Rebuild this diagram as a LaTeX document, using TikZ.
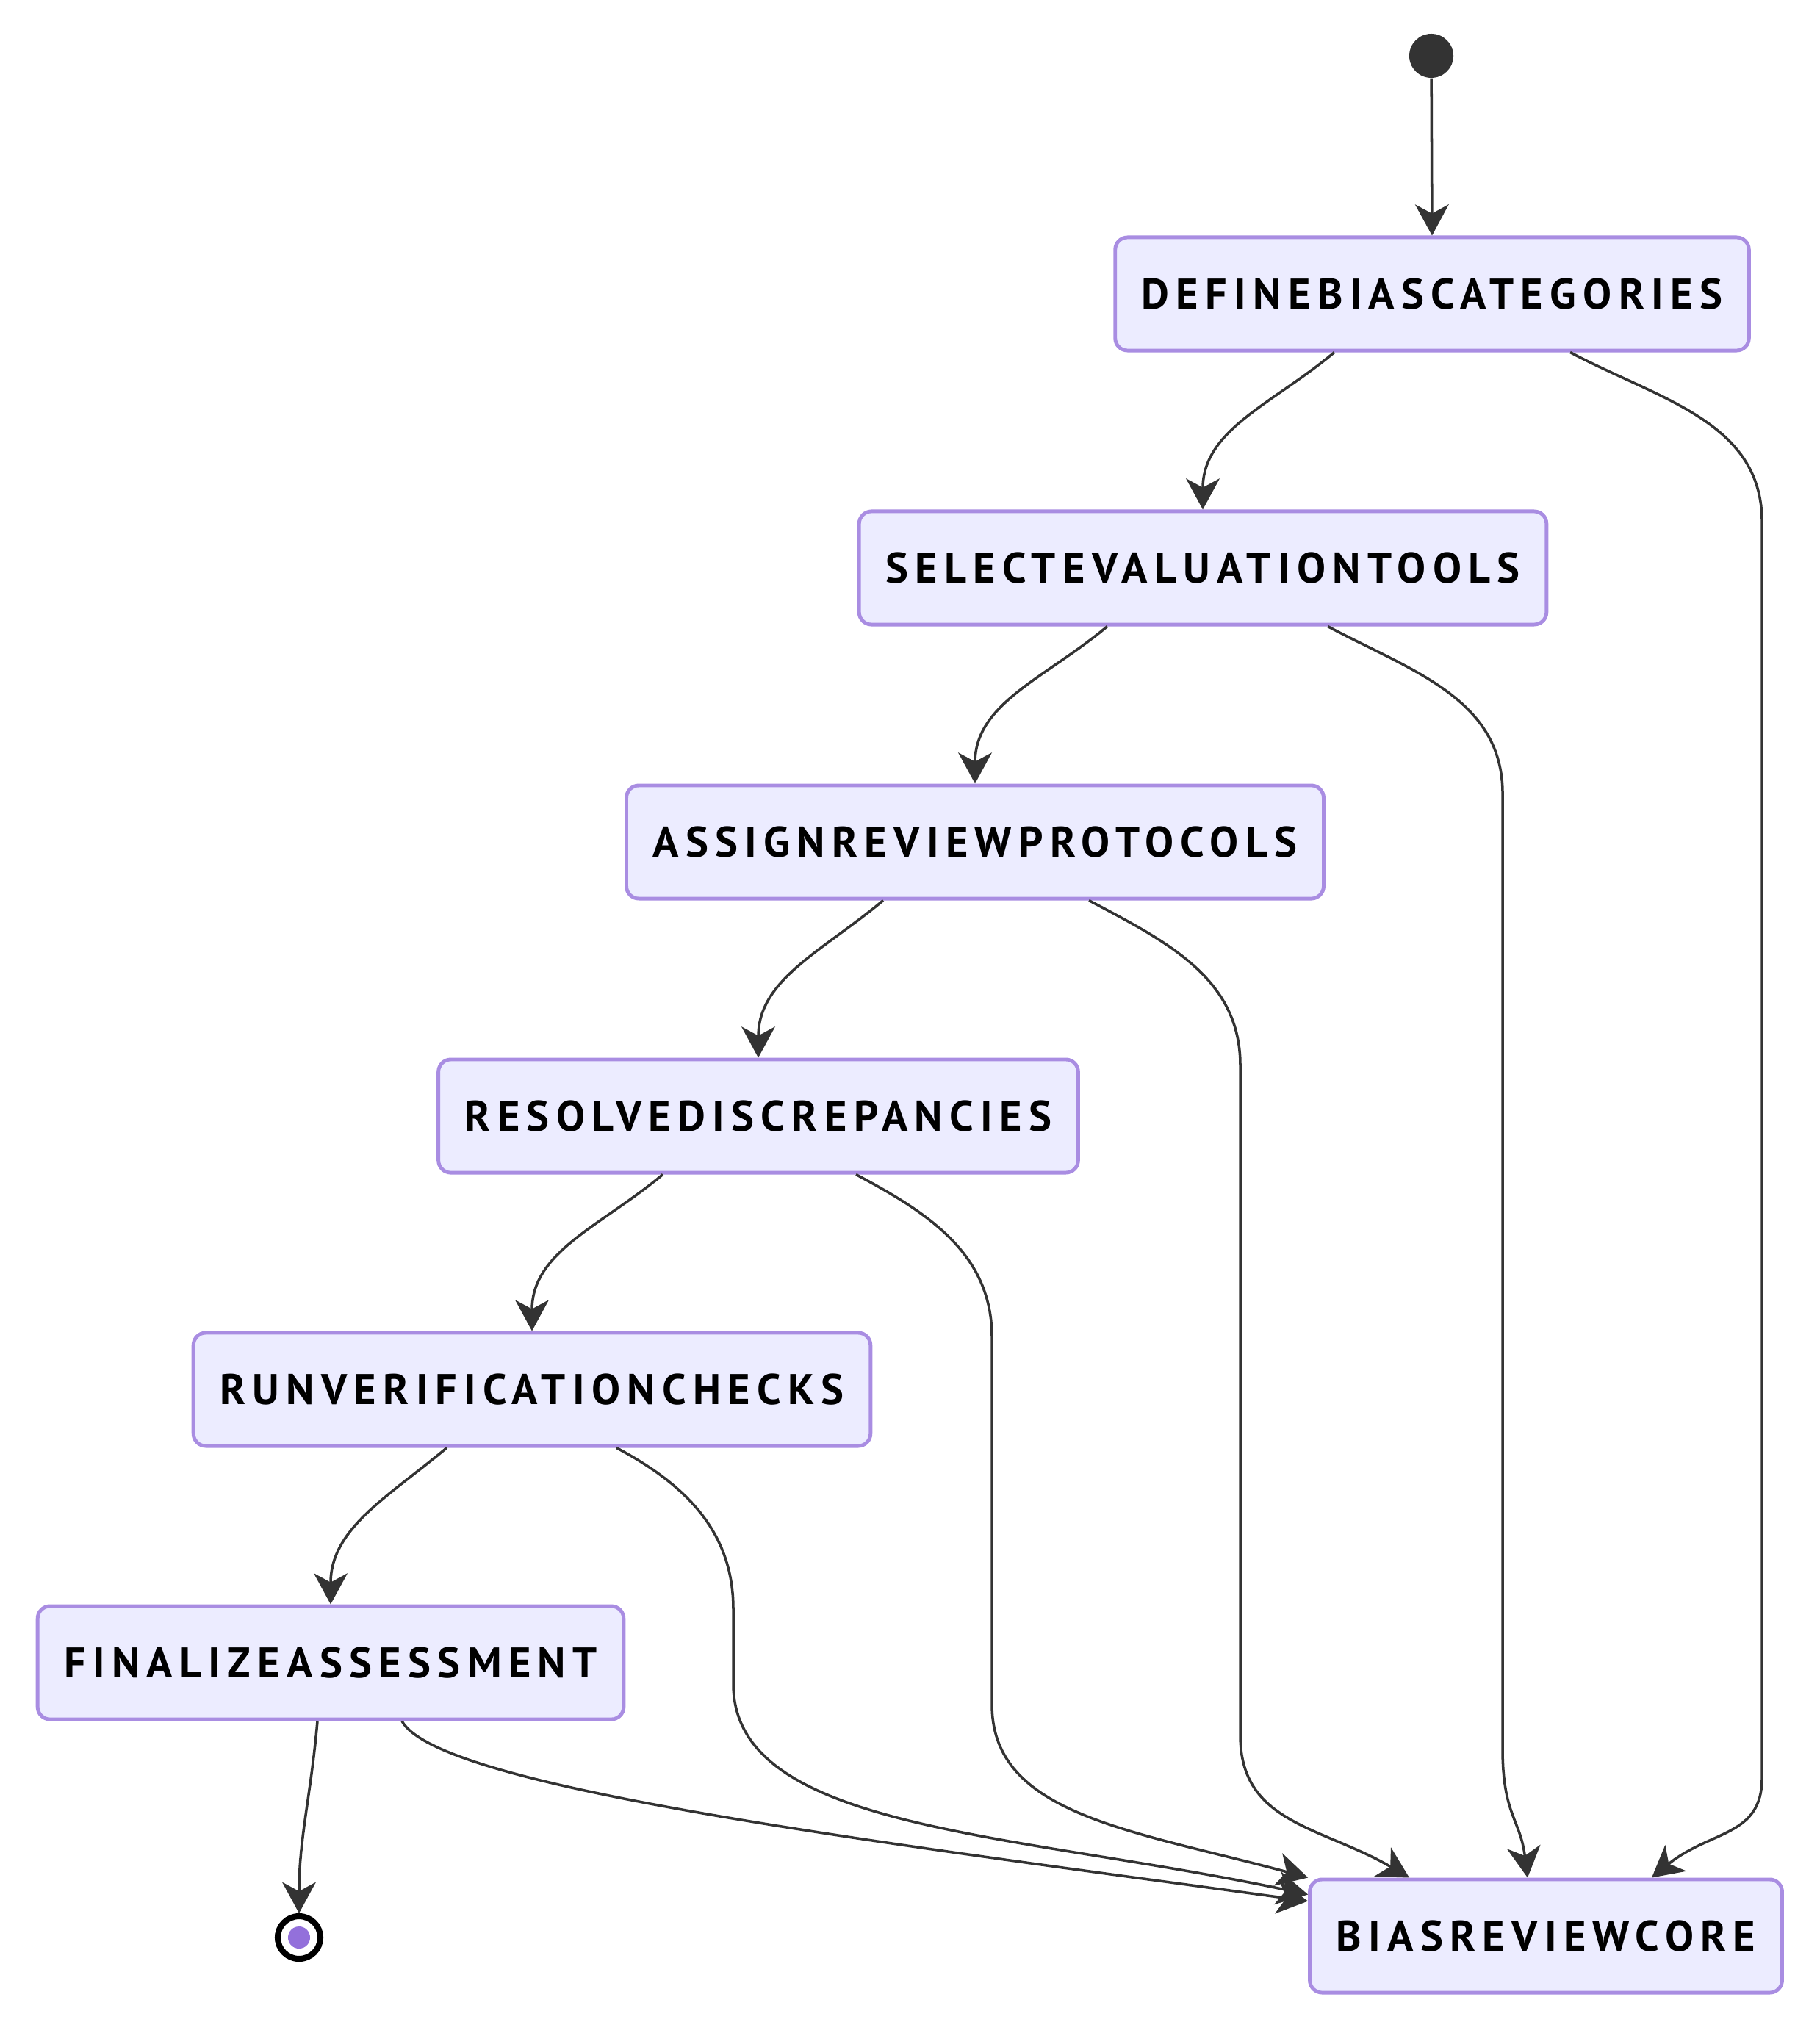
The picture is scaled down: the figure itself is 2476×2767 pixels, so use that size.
\documentclass[tikz,border=0pt]{standalone}
\usepackage{fontspec}
\setmainfont{PT Sans}
\usetikzlibrary{arrows.meta}

\definecolor{boxfill}{HTML}{ECECFF}
\definecolor{boxline}{HTML}{9370DB}
\definecolor{edgeline}{HTML}{333333}

\begin{document}
\begin{tikzpicture}[x=0.01cm, y=0.01cm,
  statebox/.style={rectangle, rounded corners=4.8pt, draw=boxline!80!white, line width=1.4pt, fill=boxfill,
    minimum height=1.54cm, inner xsep=0.36cm,
    font=\fontsize{16.6}{18}\selectfont\bfseries\addfontfeature{LetterSpace=16}},
  edge/.style={draw=edgeline, line width=1pt, -{Stealth[length=12pt,width=13pt,inset=3.5pt]}}]
\useasboundingbox (0,0) rectangle (2476,-2767);

\node[circle, fill=edgeline, minimum size=0.6cm, inner sep=0pt] (start) at (1948,-76) {};
\node[statebox] (define) at (1949,-400) {DEFINEBIASCATEGORIES};
\node[statebox] (select) at (1637,-773) {SELECTEVALUATIONTOOLS};
\node[statebox] (assign) at (1327,-1146) {ASSIGNREVIEWPROTOCOLS};
\node[statebox] (resolve) at (1032,-1519) {RESOLVEDISCREPANCIES};
\node[statebox] (run) at (724,-1891) {RUNVERIFICATIONCHECKS};
\node[statebox] (final) at (450,-2263) {FINALIZEASSESSMENT};
\node[statebox] (core) at (2104,-2635) {BIASREVIEWCORE};
\node[circle, draw=black, line width=2.3pt, fill=white, minimum size=0.58cm, inner sep=0pt] (end) at (407,-2637) {};
\fill[boxline] (end.center) circle (0.15cm);

\draw[edge] (start) -- (define.north);

\draw[edge] (define.south) ++(-133,0) to[out=-140, in=90] (select.north);
\draw[edge] (select.south) ++(-130,0) to[out=-140, in=90] (assign.north);
\draw[edge] (assign.south) ++(-125,0) to[out=-140, in=90] (resolve.north);
\draw[edge] (resolve.south) ++(-130,0) to[out=-140, in=90] (run.north);
\draw[edge] (run.south) ++(-116,0) to[out=-140, in=90] (final.north);
\draw[edge] (final.south) ++(-18,0) to[out=-95, in=90] (end.north);

\draw[edge] (define.south) ++(188,0) to[out=-28, in=90] (2398,-710) -- (2398,-2420)
  .. controls +(0,-80) and +(80,65) .. ([xshift=144*0.01cm]core.north);
\draw[edge] (select.south) ++(170,0) to[out=-28, in=90] (2045,-1080) -- (2045,-2380)
  .. controls +(0,-90) and +(-10,80) .. ([xshift=-25*0.01cm]core.north);
\draw[edge] (assign.south) ++(155,0) to[out=-28, in=90] (1688,-1450) -- (1688,-2362)
  .. controls +(0,-120) and +(-120,70) .. ([xshift=-186*0.01cm]core.north);
\draw[edge] (resolve.south) ++(133,0) to[out=-28, in=90] (1350,-1820) -- (1350,-2320)
  .. controls +(0,-150) and +(-241,65) .. (core.north west);
\draw[edge] (run.south) ++(115,0) to[out=-28, in=90] (998,-2190) -- (998,-2292)
  .. controls +(0,-200) and +(-400,85) .. ([yshift=-23*0.01cm]core.north west);
\draw[edge] (final.south) ++(97,0) .. controls +(50,-90) and +(-600,82) .. ([yshift=-32*0.01cm]core.north west);
\end{tikzpicture}
\end{document}
